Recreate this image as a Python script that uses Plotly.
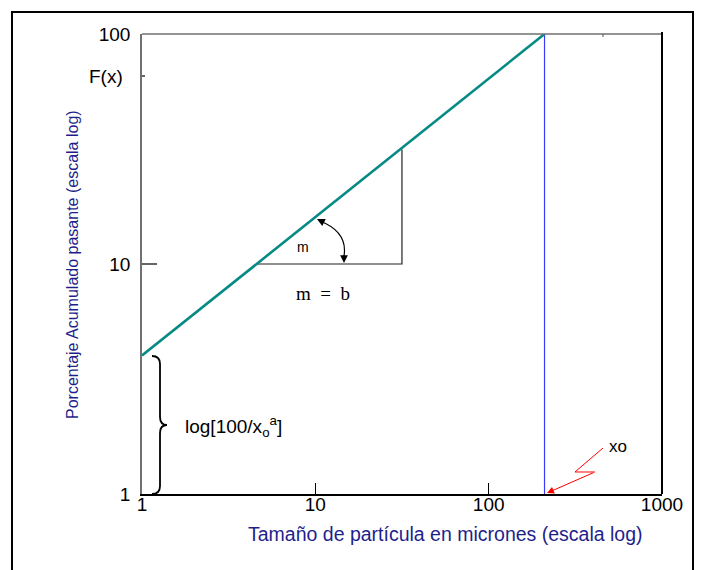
import plotly.graph_objects as go

# ---- data ----
line_x = [1, 210]
line_y = [4.0, 100]
xo_x = [210, 210]
xo_y = [1, 100]
tri_x = [4.6, 31.6, 31.6]
tri_y = [10, 10, 31.5]
fx_value = 66

x_tickvals = [1, 10, 100, 1000]
x_ticktext = ["1", "10", "100", "1000"]
y_tickvals = [1, 10, 100]
y_ticktext = ["1", "10", "100"]

W, H = 704, 570
OFF = 8  # page body margin
L, T = 134, 26
PW, PH = 520, 460
R = W - L - PW
B = H - T - PH


def px(x):  # screen x -> paper
    return (x - OFF - L) / PW


def py(y):  # screen y -> paper
    return (OFF + T + PH - y) / PH


navy = "#1f1f8c"
teal = "#078a84"
font = "Liberation Sans, Arial, sans-serif"

fig = go.Figure()
fig.add_trace(go.Scatter(x=xo_x, y=xo_y, mode="lines",
                         line=dict(color="#3a3aff", width=1.2), hoverinfo="skip"))
fig.add_trace(go.Scatter(x=tri_x, y=tri_y, mode="lines",
                         line=dict(color="#222222", width=1.2), hoverinfo="skip"))
fig.add_trace(go.Scatter(x=line_x, y=line_y, mode="lines",
                         line=dict(color=teal, width=2.6), hoverinfo="skip"))

shapes = []
shapes.append(dict(type="line", xref="paper", yref="paper", x0=0, x1=1, y0=1, y1=1,
                   line=dict(color="#707070", width=1.5)))
shapes.append(dict(type="line", xref="paper", yref="paper", x0=1, x1=1, y0=0, y1=py(32),
                   line=dict(color="black", width=2)))
shapes.append(dict(type="line", xref="paper", yref="paper", x0=px(603), x1=px(603),
                   y0=1, y1=py(37), line=dict(color="#555", width=1)))
shapes.append(dict(type="rect", xref="paper", yref="paper", x0=px(12), x1=px(693),
                   y0=py(600), y1=py(12), line=dict(color="black", width=2)))


def P(x, y):
    return f"{px(x):.5f},{py(y):.5f}"


brace = (f"M {P(152,356)} Q {P(160,356)} {P(160,364)} L {P(160,417)} "
         f"Q {P(160,425)} {P(167,425)} Q {P(160,425)} {P(160,433)} "
         f"L {P(160,486)} Q {P(160,494)} {P(152,494)}")
shapes.append(dict(type="path", xref="paper", yref="paper", path=brace,
                   line=dict(color="black", width=1.8)))
arc = f"M {P(320,221)} Q {P(348,232)} {P(344,256)}"
shapes.append(dict(type="path", xref="paper", yref="paper", path=arc,
                   line=dict(color="black", width=1.2)))
bolt = f"M {P(603,448)} L {P(575,472)} L {P(595,472)}"
shapes.append(dict(type="path", xref="paper", yref="paper", path=bolt,
                   line=dict(color="red", width=1)))


def label(x, y, text, size, xanchor="center", family=font, color="black", **kw):
    return dict(xref="paper", yref="paper", x=px(x), y=py(y), text=text, showarrow=False,
                xanchor=xanchor, yanchor="middle",
                font=dict(family=family, size=size, color=color), **kw)


ann = []
ann.append(dict(xref="paper", yref="paper", x=px(317), y=py(219), ax=8, ay=4, text="",
                showarrow=True, arrowhead=2, arrowsize=1.3, arrowwidth=1.2, arrowcolor="black",
                standoff=0))
ann.append(dict(xref="paper", yref="paper", x=px(344), y=py(263), ax=0, ay=-9, text="",
                showarrow=True, arrowhead=2, arrowsize=1.3, arrowwidth=1.2, arrowcolor="black",
                standoff=0))
ann.append(dict(xref="paper", yref="paper", x=px(547), y=py(493), ax=48, ay=-21, text="",
                showarrow=True, arrowhead=2, arrowsize=1.4, arrowwidth=1, arrowcolor="red",
                standoff=0))
ann.append(label(607, 446, "xo", 17, xanchor="left"))
ann.append(label(183, 426, "log[100/x<sub>o</sub><sup>a</sup>]", 19, xanchor="left"))
ann.append(label(303, 247, "m", 14))
ann.append(label(323, 293, "m  =  b", 19, family="Liberation Serif, Times New Roman, serif"))
ann.append(label(125, 76, "F(x)", 19, xanchor="right"))
ann.append(label(445, 534, "Tamaño de partícula en micrones (escala log)", 19.5, color=navy))
ann.append(label(72, 265, "Porcentaje Acumulado pasante (escala log)", 16, color=navy,
                 textangle=-90))

fig.update_layout(
    width=W, height=H, margin=dict(l=L, r=R, t=T, b=B),
    plot_bgcolor="white", paper_bgcolor="white", showlegend=False,
    shapes=shapes, annotations=ann,
    xaxis=dict(type="log", range=[0, 3], showgrid=False, zeroline=False,
               showline=True, linecolor="black", linewidth=1.5,
               tickmode="array", tickvals=x_tickvals, ticktext=x_ticktext,
               ticks="inside", ticklen=11, tickcolor="black", tickwidth=1,
               tickfont=dict(family=font, size=19, color="black"), ticklabelstandoff=-8),
    yaxis=dict(type="log", range=[0, 2], showgrid=False, zeroline=False,
               showline=True, linecolor="#707070", linewidth=1.5,
               tickmode="array", tickvals=y_tickvals, ticktext=y_ticktext,
               ticks="inside", ticklen=15, tickcolor="#666", tickwidth=1.5,
               minor=dict(tickmode="array", tickvals=[fx_value], ticks="inside", ticklen=3,
                          tickcolor="#666", showgrid=False),
               tickfont=dict(family=font, size=19, color="black"), ticklabelstandoff=6),
)

fig.write_html("out.html")
